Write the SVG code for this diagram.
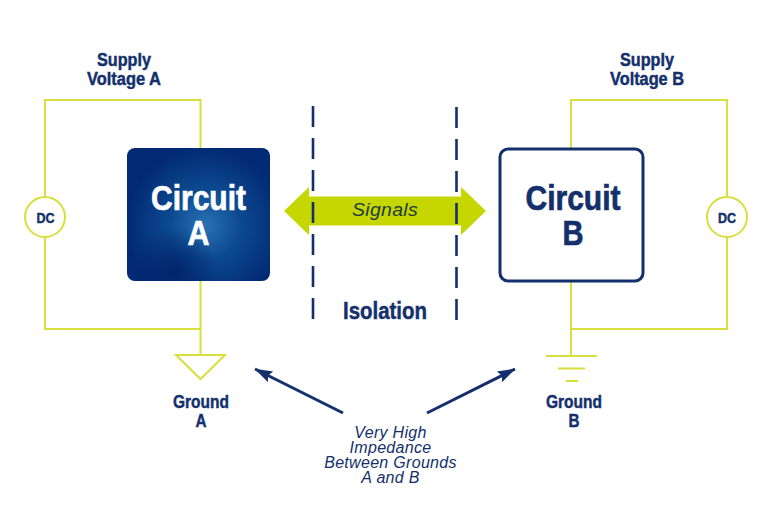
<svg xmlns="http://www.w3.org/2000/svg" width="768" height="513" viewBox="0 0 768 513">
<style>
.w{fill:none;stroke:#d8de3c;stroke-width:2}
.t{font-family:"Liberation Sans",Arial,sans-serif;font-weight:700;fill:#14306c;stroke:#14306c;stroke-width:.45;text-anchor:middle}
.l{font-size:18px}
.c{font-size:35px;stroke-width:.7}
.wh{fill:#fff;stroke:#fff}
.i{font-family:"Liberation Sans",Arial,sans-serif;font-style:italic;font-size:16px;letter-spacing:.3px;fill:#14306c;text-anchor:middle}
.d{fill:none;stroke:#14306c;stroke-width:2.600;stroke-dasharray:21 11}
.a{fill:none;stroke:#14306c;stroke-width:3}
</style>
<defs>
<radialGradient id="g" gradientUnits="userSpaceOnUse" cx="205" cy="225" r="78">
<stop offset="0" stop-color="#2a72b5"/><stop offset=".45" stop-color="#0c4a90"/><stop offset="1" stop-color="#022a74"/>
</radialGradient>
<radialGradient id="g2" gradientUnits="userSpaceOnUse" cx="175" cy="272" r="45">
<stop offset="0" stop-color="#012268" stop-opacity=".9"/><stop offset="1" stop-color="#012268" stop-opacity="0"/>
</radialGradient>
<marker id="ah" viewBox="0 0 18 12" refX="17.500" refY="6" markerWidth="18" markerHeight="12" markerUnits="userSpaceOnUse" orient="auto"><path d="M0 0L18 6L0 12L3 6Z" fill="#14306c"/></marker>
</defs>
<rect width="768" height="513" fill="#fff"/>
<g id="connectors">
<path class="w" d="M45 197V100H200.500V148M45 237V329H200.500M200.500 281V355"/>
<path class="w" d="M571 148V100H727V197M727 237V329H571M571 281V356"/>
<path class="w" d="M546 356H597M558 368.500H585M566 381H578"/>
<path class="a" d="M343 413L255 369" marker-end="url(#ah)"/>
<path class="a" d="M427 413L515 369" marker-end="url(#ah)"/>
</g>
<g id="circuit-a">
<rect x="127" y="148" width="143" height="133" rx="8" fill="url(#g)"/>
<rect x="127" y="148" width="143" height="133" rx="8" fill="url(#g2)"/>
<text class="t c wh"><tspan x="198.500" y="210" textLength="95" lengthAdjust="spacingAndGlyphs">Circuit</tspan><tspan x="198.500" y="245" textLength="22" lengthAdjust="spacingAndGlyphs">A</tspan></text>
</g>
<g id="circuit-b">
<rect x="500" y="149" width="143" height="132" rx="8" fill="#fff" stroke="#14306c" stroke-width="3"/>
<text class="t c"><tspan x="573" y="210" textLength="95" lengthAdjust="spacingAndGlyphs">Circuit</tspan><tspan x="573" y="245" textLength="21" lengthAdjust="spacingAndGlyphs">B</tspan></text>
</g>
<g id="dc-a">
<circle cx="45" cy="217" r="20" fill="#fff" stroke="#d8de3c" stroke-width="2"/>
<text class="t" x="45.500" y="222.500" font-size="14" textLength="18" lengthAdjust="spacingAndGlyphs">DC</text>
</g>
<g id="dc-b">
<circle cx="727" cy="217" r="20" fill="#fff" stroke="#d8de3c" stroke-width="2"/>
<text class="t" x="727" y="222.500" font-size="14" textLength="18" lengthAdjust="spacingAndGlyphs">DC</text>
</g>
<g id="supply-a">
<text class="t l"><tspan x="124" y="66" textLength="54" lengthAdjust="spacingAndGlyphs">Supply</tspan><tspan x="124" y="85" textLength="74" lengthAdjust="spacingAndGlyphs">Voltage A</tspan></text>
</g>
<g id="supply-b">
<text class="t l"><tspan x="647" y="66" textLength="54" lengthAdjust="spacingAndGlyphs">Supply</tspan><tspan x="647" y="85" textLength="74" lengthAdjust="spacingAndGlyphs">Voltage B</tspan></text>
</g>
<g id="signals">
<path d="M284 211L309 187V196.500H461V187L486 211L461 235V225.500H309V235Z" fill="#c5d600"/>
</g>
<g id="isolation">
<path class="d" d="M313 106V322M456.500 107V322"/>
<text class="t" x="385" y="319" font-size="23" textLength="84" lengthAdjust="spacingAndGlyphs">Isolation</text>
</g>
<text class="i" x="385" y="216" textLength="66" lengthAdjust="spacingAndGlyphs" style="font-size:19px;fill:#1d3a3a">Signals</text>
<g id="ground-a">
<path class="w" d="M176 355H225L200.500 379Z"/>
<text class="t l"><tspan x="201" y="408" textLength="56" lengthAdjust="spacingAndGlyphs">Ground</tspan><tspan x="201" y="427" textLength="11" lengthAdjust="spacingAndGlyphs">A</tspan></text>
</g>
<g id="ground-b">
<text class="t l"><tspan x="574" y="408" textLength="56" lengthAdjust="spacingAndGlyphs">Ground</tspan><tspan x="574" y="427" textLength="11" lengthAdjust="spacingAndGlyphs">B</tspan></text>
</g>
<g id="impedance">
<text class="i"><tspan x="390.500" y="437.500">Very High</tspan><tspan x="390.500" y="452.500">Impedance</tspan><tspan x="390.500" y="467.500">Between Grounds</tspan><tspan x="390.500" y="482.500">A and B</tspan></text>
</g>
</svg>
